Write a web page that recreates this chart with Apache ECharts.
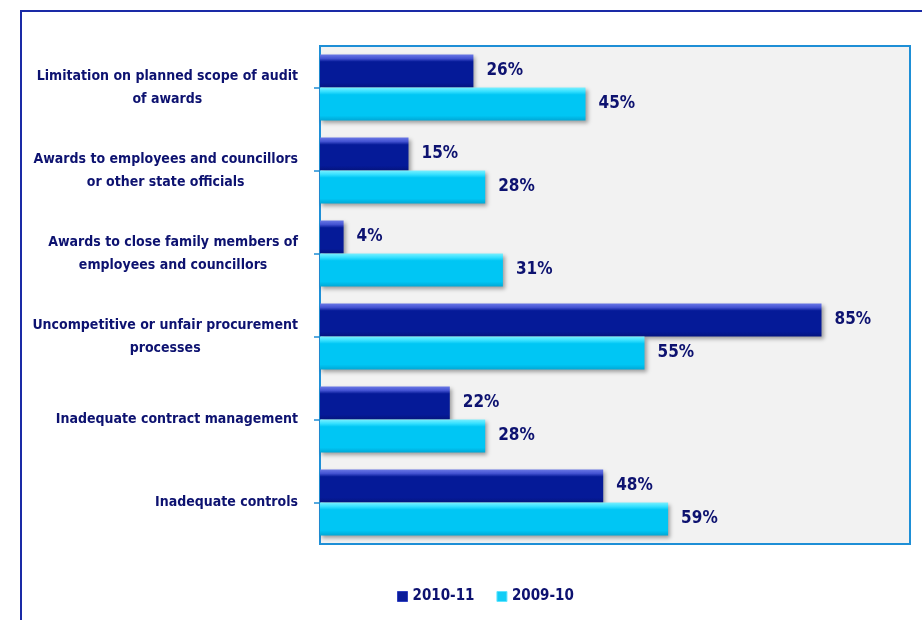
<!DOCTYPE html>
<html>
<head>
<meta charset="utf-8">
<script src="https://cdn.jsdelivr.net/npm/echarts@6/dist/echarts.min.js"></script>
<style>html,body{margin:0;padding:0;background:#fff;}#c{width:922px;height:620px;}</style>
</head>
<body>
<div id="c"></div>
<script>
const categories = [
  "Limitation on planned scope of audit\nof awards",
  "Awards to employees and councillors\nor other state officials",
  "Awards to close family members of\nemployees and councillors",
  "Uncompetitive or unfair procurement\nprocesses",
  "Inadequate contract management",
  "Inadequate controls"
];
const series2010_11 = [26, 15, 4, 85, 22, 48];
const series2009_10 = [45, 28, 31, 55, 28, 59];
const seriesNames = ["2010-11", "2009-10"];

const FONT = '"DejaVu Sans Condensed", "Liberation Sans Narrow", sans-serif';
const TXT = '#0d1270';

function grad(top, mid, body, bottom) {
  return new echarts.graphic.LinearGradient(0, 0, 0, 1, [
    {offset: 0, color: top},
    {offset: 0.12, color: mid},
    {offset: 0.22, color: body},
    {offset: 0.85, color: body},
    {offset: 1, color: bottom}
  ]);
}
const darkFill = grad('#6a78e6', '#4453d2', '#051a98', '#041480');
const lightFill = grad('#7af0ff', '#36e0ff', '#00c6f4', '#00a8d6');

const chart = echarts.init(document.getElementById('c'), null, {renderer: 'canvas'});
const labelStyle = {
  show: true, position: 'right', distance: 13,
  formatter: '{c}%', color: TXT, fontFamily: FONT, fontWeight: 'bold', fontSize: 17
};
chart.setOption({
  animation: false,
  graphic: [{
    type: 'rect', shape: {x: 21, y: 11, width: 1000, height: 700},
    style: {fill: 'none', stroke: '#1a2aa6', lineWidth: 2}, z: -10
  }],
  grid: {
    left: 320, top: 46, width: 590, height: 498,
    outerBoundsMode: 'none', containLabel: false,
    show: true, backgroundColor: '#f2f2f2', borderColor: '#1e8fd6', borderWidth: 2
  },
  legend: {
    top: 584, left: 392, itemWidth: 10, itemHeight: 10, itemGap: 22,
    icon: 'rect',
    textStyle: {color: TXT, fontFamily: FONT, fontWeight: 'bold', fontSize: 15},
    data: [
      {name: seriesNames[0], itemStyle: {color: '#0a1c9a', borderColor: '#2f3fc0', borderWidth: 1}},
      {name: seriesNames[1], itemStyle: {color: '#12cdf6', borderColor: '#60e4ff', borderWidth: 1}}
    ]
  },
  xAxis: {
    type: 'value', min: 0, max: 100,
    axisLabel: {show: false}, axisLine: {show: false}, axisTick: {show: false},
    splitLine: {show: false}
  },
  yAxis: {
    type: 'category', inverse: true, data: categories,
    axisLine: {show: true, lineStyle: {color: '#1e8fd6', width: 2}},
    axisTick: {show: true, alignWithLabel: true, length: 6, lineStyle: {color: '#1e8fd6', width: 1.5}},
    axisLabel: {
      margin: 22,
      formatter: function (v) {
        return v.split('\n').map(function (l) { return '{a|' + l + '}'; }).join('\n');
      },
      rich: {
        a: {align: 'center', color: TXT, fontFamily: FONT, fontWeight: 'bold', fontSize: 14, lineHeight: 23}
      }
    }
  },
  series: [
    {
      name: seriesNames[0], type: 'bar', data: series2010_11,
      barWidth: 33, barGap: '0%', barCategoryGap: '20%',
      itemStyle: {color: darkFill, shadowColor: 'rgba(0,0,0,0.35)', shadowBlur: 4, shadowOffsetX: 2, shadowOffsetY: 2},
      label: labelStyle
    },
    {
      name: seriesNames[1], type: 'bar', data: series2009_10,
      barWidth: 33, barGap: '0%',
      itemStyle: {color: lightFill, shadowColor: 'rgba(0,0,0,0.35)', shadowBlur: 4, shadowOffsetX: 2, shadowOffsetY: 2},
      label: labelStyle
    }
  ]
});
</script>
</body>
</html>
